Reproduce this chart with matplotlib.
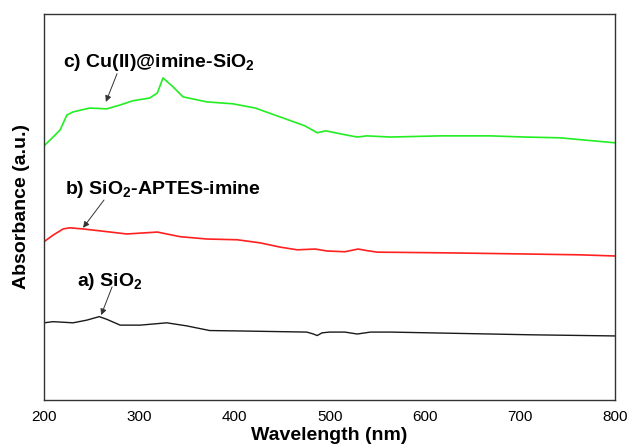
import matplotlib
matplotlib.use("Agg")
import matplotlib.pyplot as plt

plt.rcParams['font.family'] = ['Liberation Sans', 'DejaVu Sans']
plt.rcParams['mathtext.fontset'] = 'custom'
plt.rcParams['mathtext.bf'] = 'Liberation Sans:bold'
plt.rcParams['mathtext.rm'] = 'Liberation Sans'

# Wavelength (nm) and absorbance (a.u., offset) for each sample
wl_a = [200, 209.5, 230.5, 245, 258, 266, 280, 301, 329, 350, 374, 403, 476, 483, 487, 492,
        500, 516, 529, 543, 564, 627, 711, 800]
abs_a = [0.200, 0.203, 0.200, 0.207, 0.216, 0.209, 0.194, 0.194, 0.200, 0.192, 0.180, 0.179,
         0.176, 0.171, 0.167, 0.174, 0.176, 0.176, 0.171, 0.176, 0.176, 0.173, 0.169, 0.166]

wl_b = [200, 209.5, 220, 227, 241, 259, 287, 319, 343, 371, 403, 427, 448, 466, 485, 497,
        516, 530, 539, 550, 627, 711, 763, 800]
abs_b = [0.410, 0.427, 0.443, 0.446, 0.443, 0.438, 0.430, 0.435, 0.423, 0.417, 0.415, 0.407,
         0.396, 0.389, 0.391, 0.386, 0.384, 0.391, 0.387, 0.383, 0.381, 0.378, 0.376, 0.373]

wl_c = [200, 209.5, 216.8, 224, 230.5, 248, 266, 280, 293.5, 311, 319, 325, 335.5, 346, 371,
        398.6, 422, 448, 474, 487, 496, 516, 529, 539, 564, 616, 669, 705, 742, 800]
abs_c = [0.658, 0.681, 0.699, 0.738, 0.746, 0.756, 0.754, 0.764, 0.775, 0.782, 0.795, 0.834,
         0.811, 0.785, 0.772, 0.767, 0.756, 0.733, 0.710, 0.692, 0.697, 0.687, 0.681, 0.684,
         0.681, 0.684, 0.684, 0.681, 0.679, 0.666]

xticks = [200, 300, 400, 500, 600, 700, 800]

fig = plt.figure(figsize=(6.29, 4.46), dpi=100)
ax = fig.add_axes([0.070, 0.103, 0.908, 0.866])

ax.plot(wl_a, abs_a, color='#1a1a1a', lw=1.0)
ax.plot(wl_b, abs_b, color='#ff2020', lw=1.2)
ax.plot(wl_c, abs_c, color='#22ee22', lw=1.2)

ax.set_xlim(200, 800)
ax.set_ylim(0, 1)
ax.set_xticks(xticks)
ax.set_yticks([])
ax.tick_params(axis='x', length=0, pad=7, labelsize=11)
for s in ax.spines.values():
    s.set_color('#333333')
    s.set_linewidth(1.0)

ax.set_xlabel('Wavelength (nm)', fontsize=14, fontweight='bold', labelpad=2)
ax.set_ylabel('Absorbance (a.u.)', fontsize=14, fontweight='bold', labelpad=10)

arrow = dict(arrowstyle='-|>', color='#333333', lw=0.7, mutation_scale=9,
             shrinkA=0, shrinkB=0)
ax.annotate('', xy=(265, 0.772), xytext=(276.7, 0.845), arrowprops=arrow)
ax.annotate('', xy=(241, 0.446), xytext=(263, 0.518), arrowprops=arrow)
ax.annotate('', xy=(260, 0.220), xytext=(271.5, 0.293), arrowprops=arrow)

ax.text(220, 0.873, r'c) Cu(II)@imine-SiO$_\mathbf{2}$', fontsize=14, fontweight='bold',
        va='center', ha='left')
ax.text(222, 0.544, r'b) SiO$_\mathbf{2}$-APTES-imine', fontsize=14, fontweight='bold',
        va='center', ha='left')
ax.text(234.7, 0.308, r'a) SiO$_\mathbf{2}$', fontsize=14, fontweight='bold',
        va='center', ha='left')

fig.savefig('out.png', dpi=100)
